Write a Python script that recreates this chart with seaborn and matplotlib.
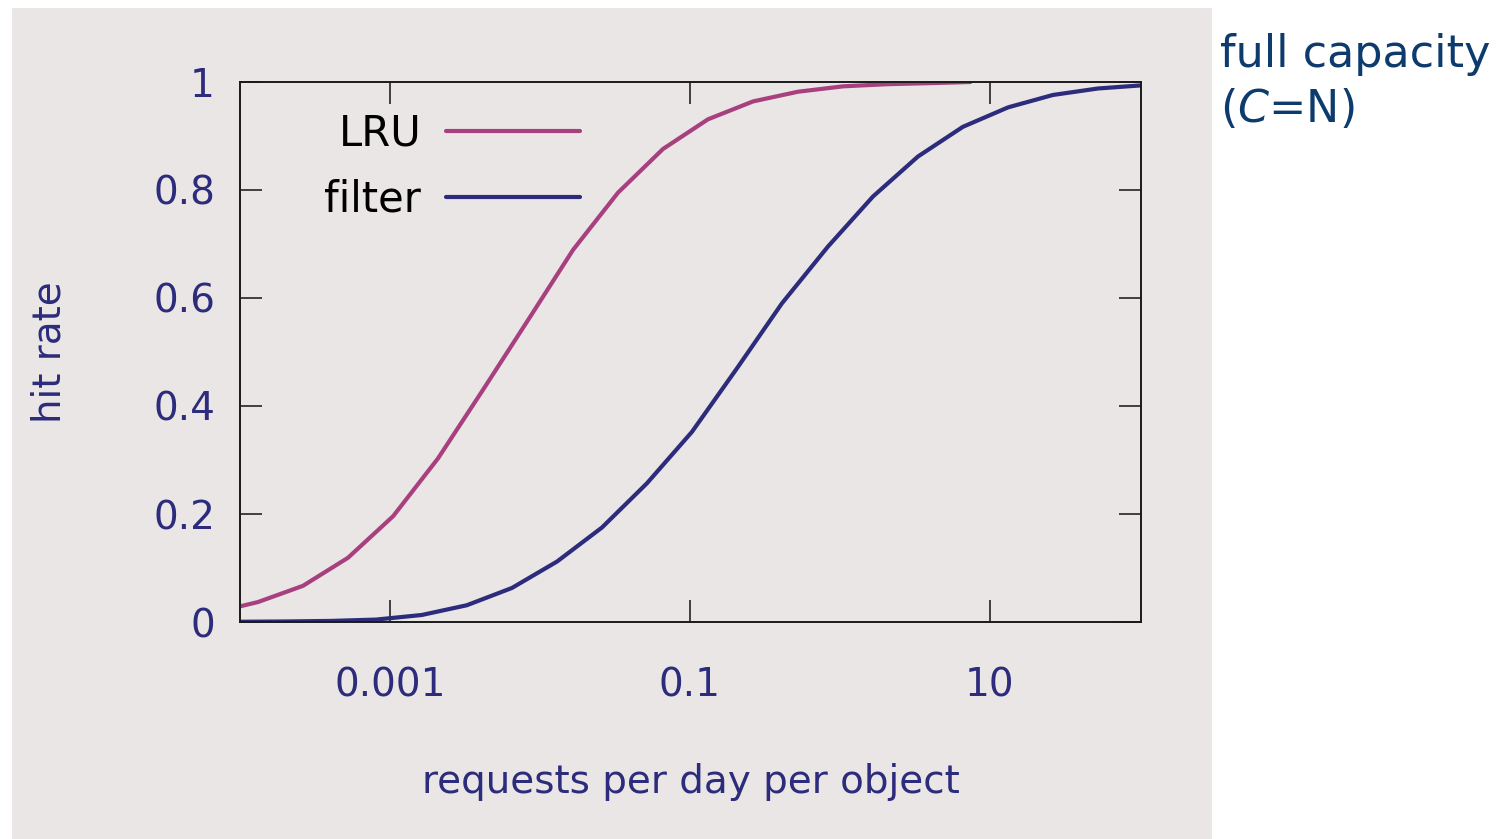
import matplotlib
matplotlib.use("Agg")
import matplotlib.pyplot as plt
from matplotlib.lines import Line2D
from matplotlib.patches import Rectangle
from matplotlib.ticker import NullLocator, FixedLocator, FixedFormatter
import pandas as pd
import seaborn as sns

# Hit rate vs. request rate (requests per day per object), full-capacity cache
lru_rate = [6.6e-5, 1.32e-4, 2.63e-4, 5.25e-4, 1.05e-3, 2.09e-3, 4.17e-3, 8.32e-3,
            0.0166, 0.0331, 0.0661, 0.132, 0.263, 0.525, 1.05, 2.09, 4.17, 7.4]
lru_hit = [0.017, 0.037, 0.067, 0.119, 0.196, 0.303, 0.43, 0.559,
           0.689, 0.795, 0.876, 0.931, 0.964, 0.982, 0.992, 0.996, 0.998, 1.0]

filter_rate = [1.02e-4, 2.03e-4, 4.07e-4, 8.1e-4, 1.63e-3, 3.25e-3, 6.5e-3, 0.013,
               0.0259, 0.0517, 0.103, 0.206, 0.41, 0.83, 1.66, 3.31, 6.6, 13.2,
               26.3, 52.5, 105]
filter_hit = [0.0005, 0.001, 0.002, 0.0045, 0.013, 0.031, 0.063, 0.112,
              0.175, 0.257, 0.352, 0.47, 0.59, 0.695, 0.788, 0.862, 0.917, 0.953,
              0.976, 0.988, 0.994]

series_names = ["LRU", "filter"]
series_colors = ["#a8407f", "#2c2b7c"]

x_ticks = [1e-3, 1e-1, 10]
x_tick_labels = ["0.001", "0.1", "10"]
y_ticks = [0, 0.2, 0.4, 0.6, 0.8, 1.0]
y_tick_labels = ["0", "0.2", "0.4", "0.6", "0.8", "1"]

df = pd.concat([
    pd.DataFrame({"rate": lru_rate, "hit": lru_hit, "policy": "LRU"}),
    pd.DataFrame({"rate": filter_rate, "hit": filter_hit, "policy": "filter"}),
], ignore_index=True)

sns.set_theme(style="ticks")
plt.rcParams["font.family"] = ["DejaVu Sans"]

panel = "#e9e6e5"
navy = "#2c2b7c"

fig = plt.figure(figsize=(15.10, 8.39), dpi=100, facecolor="white")
fig.patches.append(Rectangle((12 / 1510, 0), 1200 / 1510, 831 / 839,
                             transform=fig.transFigure, facecolor=panel,
                             edgecolor="none", zorder=-10))

ax = fig.add_axes([240 / 1510, 1 - 622 / 839, 901 / 1510, 540 / 839])
ax.set_facecolor(panel)

sns.lineplot(data=df, x="rate", y="hit", hue="policy", hue_order=series_names,
             palette=series_colors, linewidth=3, estimator=None, sort=False,
             legend=False, ax=ax)

ax.set_xscale("log")
ax.set_xlim(1e-4, 101.6)
ax.set_ylim(0, 1)
ax.xaxis.set_major_locator(FixedLocator(x_ticks))
ax.xaxis.set_major_formatter(FixedFormatter(x_tick_labels))
ax.xaxis.set_minor_locator(NullLocator())
ax.set_yticks(y_ticks)
ax.set_yticklabels(y_tick_labels)

for s in ax.spines.values():
    s.set_color("#1a1a1a")
    s.set_linewidth(1.4)

ax.tick_params(axis="both", which="major", direction="in", length=16, width=1.3,
               color="#333333", labelcolor=navy, labelsize=28,
               top=True, right=True)
ax.tick_params(axis="x", pad=32)
ax.tick_params(axis="y", pad=18)

ax.set_xlabel("requests per day per object", fontsize=28, color=navy)
ax.xaxis.set_label_coords(0.5, -0.262)
ax.set_ylabel("hit rate", fontsize=28, color=navy)
ax.yaxis.set_label_coords(-0.19, 0.5)

handles = [Line2D([], [], color=c, linewidth=3) for c in series_colors]
ax.legend(handles, series_names, loc="upper right", bbox_to_anchor=(0.377, 0.943),
          frameon=False, markerfirst=False, handlelength=3.2, handletextpad=0.6,
          labelspacing=0.56, fontsize=30, borderaxespad=0, borderpad=0,
          labelcolor="black")

fig.text(1220 / 1510, 1 - 33 / 839, "full capacity\n($\\mathit{C}$=N)",
         ha="left", va="top", fontsize=32, color="#0d3b6e", linespacing=1.3)

fig.savefig("out.png", dpi=100, facecolor="white")
